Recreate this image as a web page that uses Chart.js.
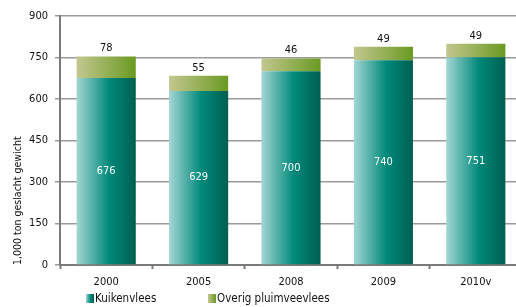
<!DOCTYPE html>
<html lang="nl">
<head>
  <meta charset="UTF-8">
  <title>Kuikenvlees en overig pluimveevlees</title>
  <script src="https://cdn.jsdelivr.net/npm/chart.js"></script>
  <style>
    html, body { margin: 0; padding: 0; background: #fff; overflow: hidden; }
    #wrap { width: 522px; height: 307px; }
  </style>
</head>
<body>
  <div id="wrap"><canvas id="chart"></canvas></div>

  <script>
    const years = ['2000', '2005', '2008', '2009', '2010v'];
    const kuikenvlees = [676, 629, 700, 740, 751];
    const overigPluimvee = [78, 55, 46, 49, 49];
    const yTicks = [0, 150, 300, 450, 600, 750, 900];

    const FONT = '"Liberation Sans Narrow", "DejaVu Sans Condensed", "Liberation Sans", sans-serif';
    const BAR_PCT = 0.64;

    // horizontal gradient across one bar, built from the x scale
    function barGradient(stops) {
      return function(ctx) {
        const chart = ctx.chart;
        const xs = chart.scales.x;
        if (!chart.chartArea || !xs || ctx.dataIndex === undefined) return stops[1][1];
        const cx = xs.getPixelForValue(ctx.dataIndex);
        const w = xs.width / years.length * BAR_PCT;
        const g = chart.ctx.createLinearGradient(cx - w / 2, 0, cx + w / 2, 0);
        stops.forEach(s => g.addColorStop(s[0], s[1]));
        return g;
      };
    }
    const tealStops = [[0, '#a4d6d4'], [0.55, '#00897a'], [1, '#005f50']];
    const greenStops = [[0, '#c3c78f'], [1, '#6a9a22']];

    // value labels: white in the middle of the lower bar, black above the stack
    const valueLabels = {
      id: 'valueLabels',
      afterDatasetsDraw(chart) {
        const ctx = chart.ctx;
        const low = chart.getDatasetMeta(0).data;
        const top = chart.getDatasetMeta(1).data;
        ctx.save();
        ctx.font = '11px ' + FONT;
        ctx.textAlign = 'center';
        ctx.textBaseline = 'middle';
        low.forEach((el, i) => {
          ctx.fillStyle = '#ffffff';
          ctx.fillText(kuikenvlees[i], el.x, (el.y + el.base) / 2);
          ctx.fillStyle = '#111111';
          ctx.fillText(overigPluimvee[i], top[i].x, top[i].y - 8);
        });
        ctx.restore();
      }
    };

    // legend drawn under the axis
    const bottomLegend = {
      id: 'bottomLegend',
      afterDraw(chart) {
        const ctx = chart.ctx;
        const items = [
          { text: 'Kuikenvlees', x: 86, stops: tealStops },
          { text: 'Overig pluimveevlees', x: 208, stops: greenStops }
        ];
        ctx.save();
        ctx.font = '11.5px ' + FONT;
        ctx.textBaseline = 'middle';
        items.forEach(it => {
          const g = ctx.createLinearGradient(it.x, 0, it.x + 8, 0);
          it.stops.forEach(s => g.addColorStop(s[0], s[1]));
          ctx.fillStyle = g;
          ctx.fillRect(it.x, 294, 8, 9);
          ctx.fillStyle = '#111111';
          ctx.fillText(it.text, it.x + 9, 299);
        });
        ctx.restore();
      }
    };

    new Chart(document.getElementById('chart'), {
      type: 'bar',
      data: {
        labels: years,
        datasets: [
          { label: 'Kuikenvlees', data: kuikenvlees, backgroundColor: barGradient(tealStops) },
          { label: 'Overig pluimveevlees', data: overigPluimvee, backgroundColor: barGradient(greenStops) }
        ]
      },
      options: {
        responsive: true,
        maintainAspectRatio: false,
        animation: false,
        datasets: { bar: { barPercentage: BAR_PCT, categoryPercentage: 1 } },
        layout: { padding: { top: 16, right: 0, bottom: 0, left: 0 } },
        plugins: { legend: { display: false }, tooltip: { enabled: false } },
        scales: {
          x: {
            stacked: true,
            afterFit: s => { s.height = 42; },
            border: { color: '#7a7a7a', width: 2 },
            grid: { drawOnChartArea: false, tickLength: 4, tickColor: '#7a7a7a', tickWidth: 2 },
            ticks: { color: '#111', font: { family: FONT, size: 11 }, padding: 7 }
          },
          y: {
            stacked: true,
            min: 0,
            max: 900,
            afterBuildTicks: s => { s.ticks = yTicks.map(v => ({ value: v })); },
            afterFit: s => { s.width = 60; },
            border: { color: '#7a7a7a', width: 2 },
            grid: { color: '#9a9a9a', lineWidth: 1.5, tickLength: 5, dash: [2, 3.5] },
            ticks: { color: '#111', font: { family: FONT, size: 11 }, padding: 7 },
            title: {
              display: true,
              text: '1,000 ton geslacht gewicht',
              align: 'start',
              color: '#111',
              font: { family: FONT, size: 10.5 },
              padding: { top: 12, bottom: 0 }
            }
          }
        }
      },
      plugins: [valueLabels, bottomLegend]
    });
  </script>
</body>
</html>
